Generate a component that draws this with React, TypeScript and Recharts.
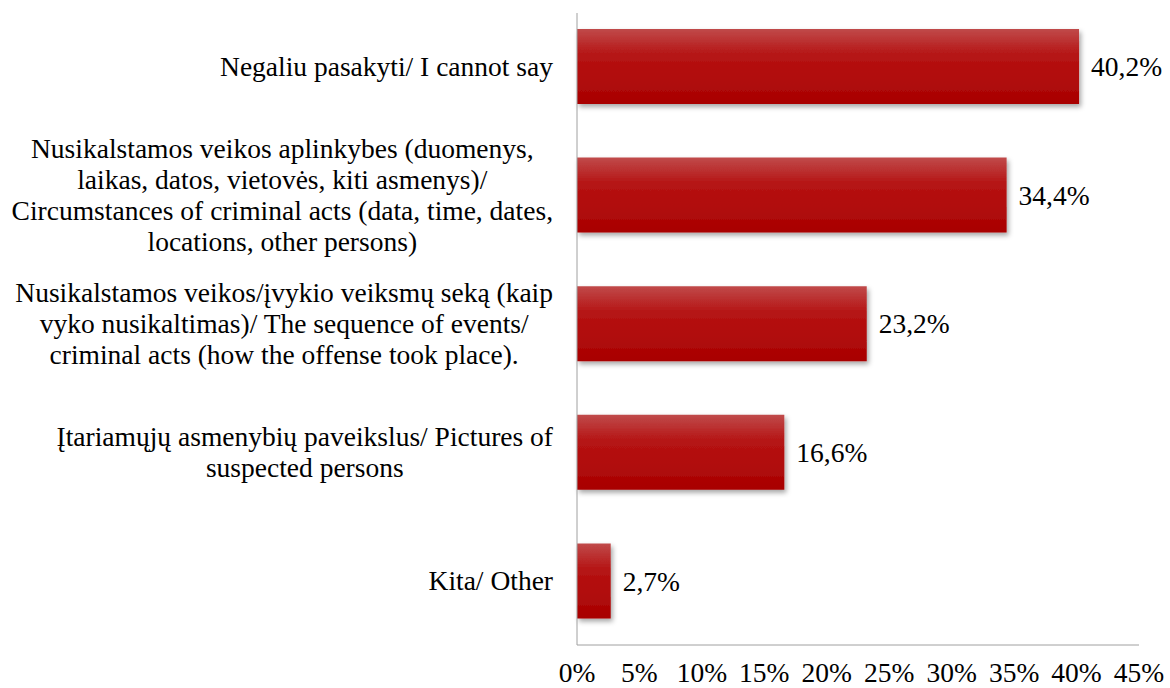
import { BarChart, Bar, XAxis, YAxis, LabelList } from 'recharts';

const categories = [
  ['Negaliu pasakyti/ I cannot say'],
  [
    'Nusikalstamos veikos aplinkybes (duomenys,',
    'laikas, datos, vietovės, kiti asmenys)/',
    'Circumstances of criminal acts (data, time, dates,',
    'locations, other persons)',
  ],
  [
    'Nusikalstamos veikos/įvykio veiksmų seką (kaip',
    'vyko nusikaltimas)/ The sequence of events/',
    'criminal acts (how the offense took place).',
  ],
  ['Įtariamųjų asmenybių paveikslus/ Pictures of', 'suspected persons'],
  ['Kita/ Other'],
];
const values = [40.2, 34.4, 23.2, 16.6, 2.7];
const xTicks = [0, 5, 10, 15, 20, 25, 30, 35, 40, 45];

const data = categories.map((lines, i) => ({ name: lines.join('\n'), value: values[i] }));

const FONT = 'Liberation Serif';
const FONT_SIZE = 27.5;
const LINE_H = 31;

let ctx: CanvasRenderingContext2D | null = null;
function textWidth(s: string) {
  if (!ctx) ctx = document.createElement('canvas').getContext('2d');
  if (!ctx) return s.length * 11;
  ctx.font = `${FONT_SIZE}px "${FONT}"`;
  return ctx.measureText(s).width;
}

const textStyle = { fontFamily: FONT, fontSize: FONT_SIZE, fill: '#000' };

// multi-line label, lines centred on each other, block right-aligned to the axis
function CategoryTick(props: any) {
  const { x, y, payload } = props;
  const lines: string[] = String(payload.value).split('\n');
  const w = Math.max(...lines.map(textWidth));
  const cx = x - 16 - w / 2;
  const y0 = y - ((lines.length - 1) * LINE_H) / 2;
  return (
    <text x={cx} y={y0} textAnchor="middle" style={textStyle}>
      {lines.map((l, i) => (
        <tspan key={i} x={cx} y={y0 + i * LINE_H} dy="0.35em">
          {l}
        </tspan>
      ))}
    </text>
  );
}

export default function App() {
  return (
    <div style={{ position: 'absolute', left: 0, top: 0, background: '#fff' }}>
      <BarChart
        width={1170}
        height={688}
        layout="vertical"
        data={data}
        margin={{ top: 13, right: 31, left: 0, bottom: 0 }}
      >
        <defs>
          <linearGradient id="barFill" x1="0" y1="0" x2="0" y2="1">
            <stop offset="0%" stopColor="#c04a4a" />
            <stop offset="35%" stopColor="#b51414" />
            <stop offset="65%" stopColor="#b10b0b" />
            <stop offset="100%" stopColor="#a80202" />
          </linearGradient>
          <filter id="barShadow" x="-10%" y="-20%" width="130%" height="150%">
            <feDropShadow dx="2" dy="3" stdDeviation="2.5" floodColor="#000" floodOpacity="0.35" />
          </filter>
        </defs>
        <XAxis
          type="number"
          domain={[0, 45]}
          ticks={xTicks}
          tickFormatter={(v: number) => `${v}%`}
          tickLine={false}
          axisLine={{ stroke: '#a0a0a0' }}
          height={43}
          tick={{ ...textStyle, dy: 9 }}
          interval={0}
        />
        <YAxis
          type="category"
          dataKey="name"
          width={577}
          tickLine={false}
          axisLine={{ stroke: '#a0a0a0' }}
          tick={<CategoryTick />}
          interval={0}
          padding={{ top: -11, bottom: 0 }}
        />
        <Bar dataKey="value" fill="url(#barFill)" filter="url(#barShadow)" barSize={75} isAnimationActive={false}>
          <LabelList
            dataKey="value"
            position="right"
            offset={12}
            formatter={(v: any) => `${String(v).replace('.', ',')}%`}
            style={textStyle}
          />
        </Bar>
      </BarChart>
    </div>
  );
}
